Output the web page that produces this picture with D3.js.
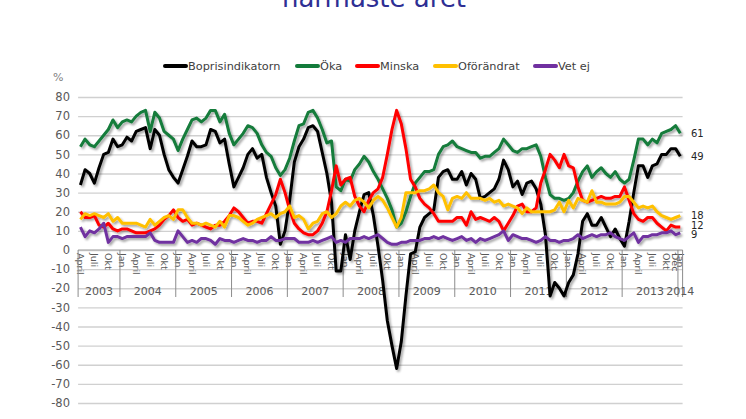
<!DOCTYPE html>
<html>
<head>
<meta charset="utf-8">
<script src="https://cdn.jsdelivr.net/npm/d3@7"></script>
<style>
    body { margin: 0; background: #fff; }
    svg { display: block; font-family: 'DejaVu Sans', Verdana, sans-serif; }
</style>
</head>
<body>
<div id="chart"></div>
<script>
// categories: monthly, April 2003 .. Jan 2014
const years = ['2003', '2004', '2005', '2006', '2007', '2008', '2009', '2010', '2011', '2012', '2013', '2014'];
const monthNames = ['Jan', 'Feb', 'Mars', 'April', 'Maj', 'Juni', 'Juli', 'Aug', 'Sep', 'Okt', 'Nov', 'Dec'];
const shownMonths = ['Jan', 'April', 'Juli', 'Okt'];
const firstMonth = 3;      // April
const monthCount = 130;

const bopris = [
    34, 42, 40, 35, 43, 50, 51, 58, 54, 55, 59, 57, 62, 63, 64, 53, 63, 60, 50, 42,
    38, 35, 42, 49, 57, 54, 54, 55, 63, 62, 56, 58, 45, 33, 38, 43, 50, 53, 48, 50,
    38, 30, 23, 3, 10, 26, 46, 54, 58, 64, 65, 62, 51, 40, 25, -11, -11, 8, -5, 10,
    20, 29, 30, 18, 2, -16, -37, -50, -62, -48, -24, -2, -1, 12, 17, 19, 21, 38, 41, 42,
    37, 37, 41, 34, 40, 37, 27, 28, 30, 32, 37, 47, 42, 33, 36, 29, 35, 36, 32, 24,
    8, -24, -17, -20, -24, -17, -13, -2, 15, 19, 13, 13, 17, 12, 7, 11, 6, 2, 15, 30,
    44, 44, 38, 44, 45, 50, 50, 53, 53, 49
];
const oka = [
    54, 58, 55, 54, 57, 60, 63, 68, 64, 67, 68, 67, 70, 72, 73, 62, 72, 69, 62, 60,
    58, 52, 58, 63, 68, 69, 67, 69, 73, 73, 67, 71, 61, 55, 58, 61, 65, 64, 61, 55,
    51, 49, 43, 39, 42, 48, 57, 65, 66, 72, 73, 69, 63, 56, 57, 33, 31, 37, 36, 42,
    45, 49, 46, 41, 37, 32, 27, 21, 12, 14, 20, 28, 35, 38, 41, 41, 42, 50, 54, 55,
    57, 54, 53, 52, 51, 51, 48, 49, 49, 51, 53, 58, 55, 52, 51, 53, 53, 54, 55, 49,
    38, 29, 27, 27, 26, 27, 30, 36, 41, 44, 38, 41, 43, 40, 38, 41, 37, 35, 37, 47,
    58, 58, 55, 58, 56, 61, 62, 63, 65, 61
];
const minska = [
    20, 17, 17, 18, 13, 12, 14, 11, 10, 11, 11, 10, 9, 9, 9, 10, 11, 13, 16, 18,
    21, 17, 15, 16, 13, 14, 13, 12, 11, 13, 13, 15, 18, 22, 20, 17, 14, 15, 15, 14,
    19, 24, 29, 37, 30, 21, 14, 11, 9, 8, 8, 10, 14, 20, 31, 44, 34, 37, 38, 28,
    23, 20, 26, 30, 32, 38, 50, 63, 73, 66, 53, 37, 33, 27, 24, 22, 19, 15, 15, 15,
    15, 17, 17, 13, 20, 16, 17, 16, 15, 17, 15, 10, 14, 18, 23, 24, 20, 20, 22, 35,
    42, 50, 47, 43, 50, 44, 43, 33, 26, 25, 26, 27, 28, 27, 27, 28, 28, 33, 26, 19,
    16, 15, 17, 17, 14, 12, 10, 13, 12, 12
];
const oforandrat = [
    16, 19, 18, 19, 18, 17, 19, 15, 17, 14, 14, 14, 14, 13, 12, 16, 13, 15, 17, 18,
    16, 21, 21, 17, 14, 14, 13, 14, 13, 12, 15, 12, 18, 18, 17, 15, 13, 14, 16, 17,
    18, 19, 17, 19, 20, 23, 17, 18, 16, 11, 14, 15, 19, 20, 17, 19, 23, 25, 23, 26,
    27, 25, 22, 26, 28, 26, 22, 17, 12, 17, 30, 30, 30, 31, 31, 32, 34, 30, 28, 21,
    27, 28, 27, 30, 27, 27, 27, 26, 27, 25, 26, 23, 24, 23, 22, 19, 22, 20, 20, 20,
    20, 20, 21, 25, 20, 26, 22, 27, 26, 25, 31, 25, 25, 24, 24, 24, 25, 28, 28, 25,
    22, 23, 22, 23, 20, 18, 17, 16, 17, 18
];
const vetEj = [
    12, 7, 10, 9, 11, 14, 4, 7, 7, 6, 7, 7, 7, 7, 7, 9, 5, 4, 4, 4,
    4, 10, 7, 4, 5, 4, 6, 6, 5, 3, 6, 5, 5, 4, 5, 6, 5, 5, 4, 5,
    5, 7, 5, 5, 6, 6, 6, 4, 4, 4, 5, 4, 5, 6, 7, 4, 5, 4, 6, 6,
    6, 7, 6, 7, 8, 6, 4, 3, 3, 4, 4, 5, 5, 5, 6, 6, 7, 6, 7, 6,
    5, 6, 7, 5, 6, 4, 6, 5, 6, 7, 8, 10, 5, 8, 7, 6, 6, 5, 4, 5,
    7, 5, 5, 4, 5, 5, 6, 8, 6, 7, 8, 7, 8, 8, 9, 7, 6, 5, 7, 9,
    4, 7, 7, 8, 8, 9, 9, 10, 8, 9
];

const seriesNames = ['Boprisindikatorn', 'Öka', 'Minska', 'Oförändrat', 'Vet ej'];
const seriesColors = ['#000000', '#137b3b', '#ff0000', '#ffc000', '#7030a0'];
const seriesValues = [bopris, oka, minska, oforandrat, vetEj];
const yTicks = d3.range(-80, 81, 10);

const width = 746, height = 419;
const plot = { left: 78.1, right: 682.6, top: 97, bottom: 403 };

const svg = d3.select('#chart')
    .append('svg')
    .attr('width', width)
    .attr('height', height);

const filter = svg.append('defs')
    .append('filter')
    .attr('id', 'shadow')
    .attr('x', '-5%').attr('y', '-5%')
    .attr('width', '110%').attr('height', '110%');
filter.append('feDropShadow')
    .attr('dx', 1.8)
    .attr('dy', 2)
    .attr('stdDeviation', 1.2)
    .attr('flood-color', '#000')
    .attr('flood-opacity', 0.35);

// title, only its lower part is inside the picture
svg.append('text')
    .attr('x', 374)
    .attr('y', 7)
    .attr('text-anchor', 'middle')
    .style('font-size', '26px')
    .style('fill', '#2e2f94')
    .text('närmaste året');

const x = d3.scaleBand()
    .domain(d3.range(monthCount))
    .range([plot.left, plot.right])
    .padding(0);
const cx = i => x(i) + x.bandwidth() / 2;

const y = d3.scaleLinear()
    .domain([-80, 80])
    .range([plot.bottom, plot.top]);

// gridlines
svg.append('g')
    .attr('class', 'grid')
    .attr('transform', `translate(${plot.left},0)`)
    .call(d3.axisLeft(y)
        .tickValues(yTicks)
        .tickSize(-(plot.right - plot.left))
        .tickFormat('')
    )
    .call(g => g.select('.domain').remove())
    .call(g => g.selectAll('line')
        .attr('stroke', '#d0d0d0')
        .attr('stroke-width', 1.3));

// y labels, plain hyphen for negatives like the original
svg.append('g')
    .attr('transform', 'translate(70,0)')
    .call(d3.axisLeft(y).tickValues(yTicks).tickSize(0).tickPadding(0)
        .tickFormat(d => String(d)))
    .call(g => g.select('.domain').remove())
    .call(g => g.selectAll('text')
        .style('font-family', "'DejaVu Sans', Verdana, sans-serif")
        .style('font-size', '11.5px')
        .attr('fill', '#595959'));

svg.append('text')
    .attr('x', 53)
    .attr('y', 81)
    .style('font-size', '11px')
    .style('fill', '#7f7f7f')
    .text('%');

// category axis at zero
const axisY = y(0);
svg.append('line')
    .attr('x1', plot.left).attr('x2', plot.right)
    .attr('y1', axisY).attr('y2', axisY)
    .attr('stroke', '#a6a6a6')
    .attr('stroke-width', 1.2);

const monthIdx = i => (firstMonth + i) % 12;
const yearIdx = i => Math.floor((firstMonth + i) / 12);

const monthLabels = svg.append('g');
d3.range(monthCount).forEach(i => {
    const name = monthNames[monthIdx(i)];
    const show = shownMonths.includes(name) || i === monthCount - 2;
    if (!show) return;
    monthLabels.append('text')
        .attr('transform', `translate(${cx(i)},${axisY + 3}) rotate(90)`)
        .attr('dy', '0.35em')
        .style('font-size', '9.5px')
        .style('fill', '#595959')
        .text(name);
});

// year groups
const yearGroups = years.map((label, k) => {
    const idx = d3.range(monthCount).filter(i => yearIdx(i) === k);
    return { label, start: idx[0], end: idx[idx.length - 1] };
});

const sepBottom = axisY + 47;
svg.selectAll('.sep')
    .data(yearGroups)
    .enter()
    .append('line')
    .attr('class', 'sep')
    .attr('x1', d => x(d.start)).attr('x2', d => x(d.start))
    .attr('y1', axisY).attr('y2', sepBottom)
    .attr('stroke', '#8c8c8c')
    .attr('stroke-width', 1);

svg.append('line')
    .attr('x1', plot.right).attr('x2', plot.right)
    .attr('y1', axisY).attr('y2', sepBottom)
    .attr('stroke', '#8c8c8c');

svg.selectAll('.year')
    .data(yearGroups)
    .enter()
    .append('text')
    .attr('class', 'year')
    .attr('x', d => (x(d.start) + x(d.end) + x.bandwidth()) / 2)
    .attr('y', axisY + 45)
    .attr('text-anchor', 'middle')
    .style('font-size', '11px')
    .style('fill', '#595959')
    .text(d => d.label);

// series lines
const line = d3.line()
    .x((d, i) => cx(i))
    .y(d => y(d));

const lines = svg.append('g').attr('filter', 'url(#shadow)');
seriesValues.forEach((vals, s) => {
    lines.append('path')
        .datum(vals)
        .attr('fill', 'none')
        .attr('stroke', seriesColors[s])
        .attr('stroke-width', 3)
        .attr('stroke-linejoin', 'round')
        .attr('d', line);
});

// end labels (12 and 9 sit very close, pushed apart a little)
const labelNudge = [0, 0, -1.5, 0, 2];
const endLabels = svg.append('g');
seriesValues.forEach((vals, s) => {
    const last = vals[vals.length - 1];
    endLabels.append('text')
        .attr('x', 691)
        .attr('y', y(last) + labelNudge[s])
        .attr('dy', '0.35em')
        .style('font-size', '10px')
        .style('fill', '#262626')
        .text(last);
});

// legend
const legendX = [165, 297, 357, 435, 535];
const legend = svg.append('g');
seriesNames.forEach((name, s) => {
    const item = legend.append('g')
        .attr('transform', `translate(${legendX[s]},66)`);
    item.append('line')
        .attr('x1', 0).attr('x2', 21)
        .attr('stroke', seriesColors[s])
        .attr('stroke-width', 4)
        .attr('stroke-linecap', 'round');
    item.append('text')
        .attr('x', 23)
        .attr('dy', '0.35em')
        .style('font-size', '11.3px')
        .style('fill', '#404040')
        .text(name);
});
</script>
</body>
</html>
